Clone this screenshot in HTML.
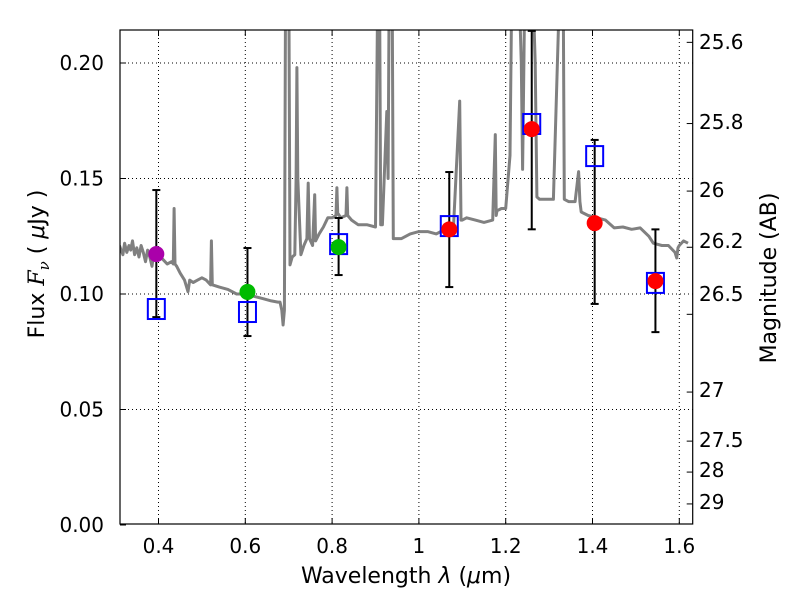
<!DOCTYPE html>
<html><head><meta charset="utf-8"><style>
body{margin:0;background:#fff;}
svg{display:block;font-family:"DejaVu Sans","Liberation Sans",sans-serif;}
</style></head><body>
<svg id="chart" width="800" height="600" viewBox="0 0 800 600">
<defs><clipPath id="clip"><rect x="120" y="30" width="572.7" height="494"/></clipPath></defs>
<rect x="0" y="0" width="800" height="600" fill="#fff"/>
<g id="grid"></g>
<g id="spec" clip-path="url(#clip)"></g>
<g id="marks" clip-path="url(#clip)"></g>
<rect x="120" y="30" width="572.7" height="494" fill="none" stroke="#000" stroke-width="1.2"/>
<g id="axes"></g>
<text x="406" y="583" font-size="22" text-anchor="middle">Wavelength  <tspan font-style="italic">λ</tspan> (<tspan font-style="italic">μ</tspan>m)</text>
<text transform="translate(44,264) rotate(-90)" font-size="22" text-anchor="middle">Flux  <tspan font-style="italic" font-family="DejaVu Serif,serif">F</tspan><tspan font-style="italic" font-family="DejaVu Serif,serif" font-size="15" dy="5">ν</tspan><tspan dy="-5">   (  </tspan><tspan font-style="italic">μ</tspan>Jy )</text>
<text transform="translate(776,278) rotate(-90)" font-size="22" text-anchor="middle">Magnitude (AB)</text>
</svg>
<script>
const specLam=[0.31,0.318,0.322,0.327,0.332,0.336,0.34,0.345,0.35,0.355,0.36,0.365,0.37,0.375,0.38,0.385,0.39,0.4,0.41,0.42,0.43,0.434,0.436,0.438,0.442,0.45,0.46,0.468,0.472,0.48,0.49,0.5,0.51,0.52,0.522,0.524,0.54,0.56,0.58,0.6,0.62,0.64,0.66,0.675,0.68,0.684,0.687,0.69,0.693,0.695,0.698,0.7,0.703,0.708,0.714,0.717,0.719,0.721,0.728,0.735,0.742,0.745,0.748,0.755,0.76,0.762,0.77,0.78,0.79,0.8,0.809,0.811,0.813,0.82,0.832,0.834,0.836,0.845,0.86,0.88,0.9,0.906,0.909,0.912,0.916,0.92,0.926,0.929,0.932,0.935,0.938,0.941,0.945,0.96,0.98,1.0,1.02,1.04,1.06,1.08,1.094,1.097,1.1,1.11,1.13,1.15,1.17,1.176,1.178,1.18,1.19,1.2,1.21,1.215,1.22,1.228,1.236,1.239,1.242,1.245,1.25,1.26,1.268,1.272,1.278,1.29,1.31,1.327,1.329,1.332,1.335,1.345,1.36,1.368,1.371,1.374,1.39,1.41,1.43,1.45,1.47,1.49,1.51,1.53,1.54,1.56,1.575,1.59,1.594,1.597,1.6,1.61,1.62,1.63];
const specFlux=[0.121,0.117,0.122,0.118,0.121,0.119,0.123,0.117,0.120,0.116,0.121,0.118,0.114,0.119,0.116,0.112,0.119,0.117,0.115,0.113,0.114,0.113,0.137,0.113,0.112,0.109,0.106,0.101,0.106,0.105,0.106,0.107,0.106,0.104,0.123,0.104,0.103,0.102,0.100,0.100,0.099,0.098,0.097,0.0965,0.0965,0.093,0.0866,0.093,0.25,0.25,0.25,0.25,0.1126,0.116,0.117,0.15,0.198,0.15,0.117,0.121,0.124,0.148,0.124,0.121,0.143,0.123,0.126,0.129,0.133,0.133,0.134,0.146,0.135,0.133,0.134,0.146,0.134,0.132,0.130,0.130,0.129,0.25,0.25,0.13,0.13,0.15,0.179,0.15,0.25,0.25,0.25,0.124,0.124,0.124,0.126,0.127,0.127,0.126,0.128,0.13,0.1835,0.132,0.132,0.133,0.132,0.131,0.132,0.169,0.134,0.136,0.137,0.137,0.16,0.25,0.25,0.25,0.2,0.154,0.2,0.25,0.25,0.25,0.2,0.142,0.141,0.141,0.141,0.25,0.25,0.25,0.141,0.14,0.14,0.153,0.14,0.1355,0.134,0.133,0.132,0.1286,0.129,0.128,0.1286,0.125,0.122,0.121,0.121,0.118,0.1156,0.12,0.121,0.123,0.122];
const bandLam=[0.395,0.605,0.815,1.07,1.26,1.405,1.545];
const obsFlux=[0.1173,0.1009,0.1203,0.128,0.1714,0.1307,0.1056];
const errHigh=[0.145,0.1199,0.1329,0.1528,0.2139,0.1667,0.128];
const errLow=[0.090,0.0818,0.1082,0.103,0.128,0.0957,0.0835];
const modelFlux=[0.0935,0.0922,0.1216,0.1294,0.1736,0.1597,0.1048];
const pointColors=['#aa00aa','#00bb00','#00bb00','#ff0000','#ff0000','#ff0000','#ff0000'];
const xTicks=[0.4,0.6,0.8,1.0,1.2,1.4,1.6];
const xTickLabels=['0.4','0.6','0.8','1','1.2','1.4','1.6'];
const yTicks=[0,0.05,0.10,0.15,0.20];
const yTickLabels=['0.00','0.05','0.10','0.15','0.20'];
const magTicks=[25.6,25.8,26,26.2,26.5,27,27.5,28,29];
const magLabelY=[42,122,190,241,294,390,440,470,502];

const NS='http://www.w3.org/2000/svg';
const X0=120,X1=692.7,Y0=30,Y1=524;
function xs(l){return 158.5+(l-0.4)*434;}
function ys(f){return 525-f*2310;}
function magY(m){return ys(3631e6*Math.pow(10,-m/2.5));}
function mk(tag,attrs,parent){const e=document.createElementNS(NS,tag);for(const k in attrs)e.setAttribute(k,attrs[k]);parent.appendChild(e);return e;}
const grid=document.getElementById('grid'),axes=document.getElementById('axes'),spec=document.getElementById('spec'),marks=document.getElementById('marks');

xTicks.forEach((t,i)=>{const x=xs(t);
 const g=mk('line',{x1:x,x2:x,y1:Y0,y2:Y1,stroke:'#000','stroke-width':1,'stroke-dasharray':'1,3'},grid);
 
 const a=mk('line',{x1:x,x2:x,y1:Y1,y2:Y1-6,stroke:'#000','stroke-width':1},axes);
 
 const b=mk('line',{x1:x,x2:x,y1:Y0,y2:Y0+6,stroke:'#000','stroke-width':1},axes);
 
 const t2=mk('text',{x:x,y:553,'font-size':20,'text-anchor':'middle'},axes);t2.textContent=xTickLabels[i];
 
});
yTicks.forEach((t,i)=>{const y=ys(t);
 if(t>0){const g=mk('line',{x1:X0,x2:X1,y1:y,y2:y,stroke:'#000','stroke-width':1,'stroke-dasharray':'1,3'},grid);
 }
 const a=mk('line',{x1:X0,x2:X0+6,y1:y,y2:y,stroke:'#000','stroke-width':1},axes);
 
 const t2=mk('text',{x:104,y:y+7,'font-size':20,'text-anchor':'end'},axes);t2.textContent=yTickLabels[i];
 
});
magTicks.forEach((m,i)=>{const y=magY(m);
 const a=mk('line',{x1:X1,x2:X1-6,y1:y,y2:y,stroke:'#000','stroke-width':1},axes);
 
 const t2=mk('text',{x:699,y:magLabelY[i]+7,'font-size':20},axes);t2.textContent=String(m);
 
});
const pts=specLam.map((l,i)=>xs(l).toFixed(1)+','+ys(specFlux[i]).toFixed(1)).join(' ');
const pl=mk('polyline',{points:pts,fill:'none',stroke:'#808080','stroke-width':3,'stroke-linejoin':'round'},spec);

bandLam.forEach((l,i)=>{const x=xs(l);
 const e=mk('line',{x1:x,x2:x,y1:ys(errHigh[i]),y2:ys(errLow[i]),stroke:'#000','stroke-width':2},marks);
 
 [errHigh[i],errLow[i]].forEach(v=>{const c=mk('line',{x1:x-4,x2:x+4,y1:ys(v),y2:ys(v),stroke:'#000','stroke-width':2},marks);
  });
 const s=mk('rect',{x:x-8.5,y:ys(modelFlux[i])-10,width:17,height:20,fill:'none',stroke:'#0000ff','stroke-width':2},marks);
 
 const c=mk('circle',{cx:x,cy:ys(obsFlux[i]),r:8,fill:pointColors[i]},marks);
 
});
</script>
</body></html>
